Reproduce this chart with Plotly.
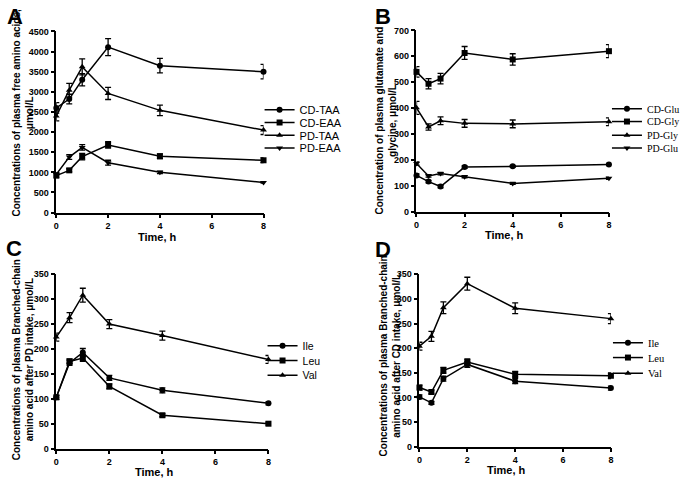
import plotly.graph_objects as go

time_h = [0, 0.5, 1, 2, 4, 8]

# Panel A
a_names = ["CD-TAA", "CD-EAA", "PD-TAA", "PD-EAA"]
a_vals = {
    "CD-TAA": [2600, 2820, 3300, 4110, 3650, 3500],
    "CD-EAA": [920, 1050, 1390, 1680, 1400, 1300],
    "PD-TAA": [2400, 3040, 3620, 2960, 2540, 2050],
    "PD-EAA": [950, 1380, 1620, 1240, 1000, 750],
}
a_err = {
    "CD-TAA": [130, 120, 150, 210, 180, 180],
    "CD-EAA": [50, 40, 80, 80, 60, 60],
    "PD-TAA": [120, 170, 200, 150, 130, 110],
    "PD-EAA": [40, 60, 70, 60, 30, 20],
}

# Panel B
b_names = ["CD-Glu", "CD-Gly", "PD-Gly", "PD-Glu"]
b_vals = {
    "CD-Glu": [140, 116, 97, 172, 175, 182],
    "CD-Gly": [540, 494, 514, 613, 588, 620],
    "PD-Gly": [401, 327, 351, 341, 339, 347],
    "PD-Glu": [186, 138, 147, 135, 109, 129],
}
b_err = {
    "CD-Glu": [6, 5, 5, 5, 4, 4],
    "CD-Gly": [20, 20, 20, 25, 22, 25],
    "PD-Gly": [25, 12, 15, 15, 15, 15],
    "PD-Glu": [6, 5, 5, 4, 4, 4],
}

# Panel C (PD intake)
c_names = ["Ile", "Leu", "Val"]
c_vals = {
    "Ile": [103, 172, 193, 142, 117, 91],
    "Leu": [103, 175, 182, 125, 67, 50],
    "Val": [224, 263, 308, 250, 227, 179],
}
c_err = {
    "Ile": [4, 5, 8, 5, 5, 3],
    "Leu": [4, 5, 7, 5, 3, 3],
    "Val": [8, 10, 14, 9, 9, 8],
}

# Panel D (CD intake)
d_names = ["Ile", "Leu", "Val"]
d_vals = {
    "Ile": [101, 89, 138, 167, 133, 119],
    "Leu": [120, 111, 155, 172, 147, 144],
    "Val": [204, 224, 282, 331, 281, 260],
}
d_err = {
    "Ile": [4, 3, 5, 6, 5, 4],
    "Leu": [5, 4, 6, 6, 6, 6],
    "Val": [8, 10, 12, 13, 11, 10],
}

symbols_a = ["circle", "square", "triangle-up", "triangle-down"]
symbols_c = ["circle", "square", "triangle-up"]

W, H = 685, 483
SANS = "Liberation Sans"
SERIF = "Liberation Serif"


def px_x(p):
    return p / W


def px_y(p):
    return 1 - p / H


fig = go.Figure()

panels = [
    dict(key="", names=a_names, vals=a_vals, err=a_err, syms=symbols_a,
         xd=[54, 264], yd=[27, 212], yr=[0, 4500], dt=500, leg_font=SANS, leg_size=11,
         leg_x=260, leg_y=[107, 120, 133, 146]),
    dict(key="2", names=b_names, vals=b_vals, err=b_err, syms=symbols_a,
         xd=[419, 614], yd=[26, 211], yr=[0, 700], dt=100, leg_font=SERIF, leg_size=10,
         leg_x=612, leg_y=[106, 119, 133, 146]),
    dict(key="3", names=c_names, vals=c_vals, err=c_err, syms=symbols_c,
         xd=[54, 269], yd=[275, 453], yr=[0, 350], dt=50, leg_font=SANS, leg_size=10.5,
         leg_x=263, leg_y=[348, 363, 378]),
    dict(key="4", names=d_names, vals=d_vals, err=d_err, syms=symbols_c,
         xd=[422, 616], yd=[275, 451], yr=[0, 350], dt=50, leg_font=SERIF, leg_size=10.5,
         leg_x=613, leg_y=[345, 360, 376]),
]

legend_layouts = {}
leg_idx = 0
for p in panels:
    for name, sym, ly in zip(p["names"], p["syms"], p["leg_y"]):
        leg_idx += 1
        leg_name = "legend" if leg_idx == 1 else f"legend{leg_idx}"
        legend_layouts[leg_name] = dict(
            x=px_x(p["leg_x"]), y=px_y(ly), xanchor="left", yanchor="middle",
            bgcolor="rgba(0,0,0,0)", borderwidth=0, itemwidth=30,
            font=dict(family=p["leg_font"], size=p["leg_size"], color="black"))
        fig.add_trace(go.Scatter(
            x=time_h, y=p["vals"][name], name=name,
            mode="lines+markers",
            line=dict(color="black", width=1.5),
            marker=dict(symbol=sym, size=6, color="black"),
            error_y=dict(type="data", array=p["err"][name], color="black",
                         thickness=1.3, width=3),
            xaxis="x" + p["key"], yaxis="y" + p["key"],
            legend=leg_name, cliponaxis=False,
        ))
    ax_common = dict(showgrid=False, zeroline=False, showline=True, linecolor="black",
                     linewidth=1.5, ticks="outside", ticklen=4, tickwidth=1.5,
                     tickcolor="black",
                     tickfont=dict(family=SANS, size=9, color="black", weight="bold"))
    fig.layout["xaxis" + p["key"]] = dict(
        ax_common, domain=[px_x(p["xd"][0]), px_x(p["xd"][1])], range=[0, 8],
        tickvals=[0, 2, 4, 6, 8], anchor="y" + p["key"])
    fig.layout["yaxis" + p["key"]] = dict(
        ax_common, domain=[px_y(p["yd"][1]), px_y(p["yd"][0])], range=p["yr"],
        dtick=p["dt"], tick0=0, anchor="x" + p["key"])

fig.update_layout(**legend_layouts)

annotations = []
# panel letters
for txt, x, y in [("A", 12, 12), ("B", 385, 12), ("C", 11, 249), ("D", 385, 250)]:
    annotations.append(dict(text=txt, x=px_x(x), y=px_y(y), xref="paper", yref="paper",
                            showarrow=False, xanchor="center", yanchor="middle", borderpad=0,
                            font=dict(family=SANS, size=22, color="black", weight="bold")))
# x titles
for x, y in [(157, 237), (508, 235), (154, 477), (510, 475)]:
    annotations.append(dict(text="Time, h", x=px_x(x), y=px_y(y), xref="paper", yref="paper",
                            showarrow=False, xanchor="center", yanchor="middle", borderpad=0,
                            font=dict(family=SANS, size=11, color="black", weight="bold")))
# y titles
ytitles = [
    ("Concentrations of plasma free amino acids,<br>μmol/L", 20, 110),
    ("Concentration of plasma glutamate and<br>glycine, μmol/L", 388, 118),
    ("Concentrations of plasma Branched-chain<br>amino acid after PD intake, μmol/L", 20, 362),
    ("Concentrations of plasma Branched-chain<br>amino acid after CD intake, μmol/L", 392, 358),
]
for txt, x, y in ytitles:
    annotations.append(dict(text=txt, x=px_x(x), y=px_y(y), xref="paper", yref="paper",
                            showarrow=False, xanchor="center", yanchor="middle", textangle=-90,
                            borderpad=0,
                            font=dict(family=SANS, size=10, color="black", weight="bold")))

fig.update_layout(
    width=W, height=H, autosize=False,
    margin=dict(l=0, r=0, t=0, b=0),
    paper_bgcolor="white", plot_bgcolor="white",
    annotations=annotations,
    showlegend=True,
)

# remove the default page margin so the figure fills the window exactly
fig.write_html("out.html",
               config={"displayModeBar": False},
               post_script="document.body.style.margin='0';document.body.style.overflow='hidden';")
